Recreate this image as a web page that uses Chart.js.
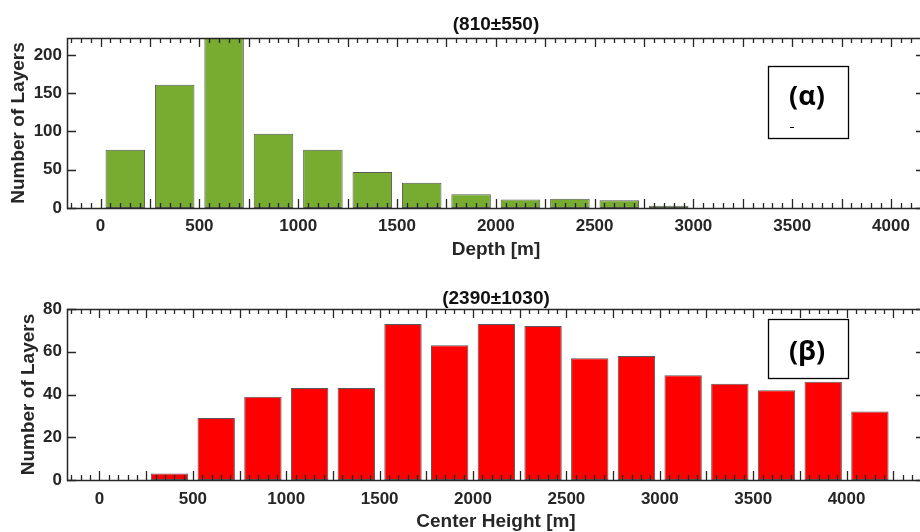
<!DOCTYPE html>
<html>
<head>
<meta charset="utf-8">
<script src="https://cdn.jsdelivr.net/npm/chart.js@4/dist/chart.umd.min.js"></script>
<style>
  html, body { margin: 0; padding: 0; background: #fff; overflow: hidden; width: 920px; height: 532px; }
  .panel { position: absolute; left: 0; }
</style>
</head>
<body>
<div class="panel" style="top:0"><canvas id="depthChart" width="930" height="266"></canvas></div>
<div class="panel" style="top:266px"><canvas id="heightChart" width="930" height="266"></canvas></div>
<script>
// Histogram bin centres (m) and number of layers per bin
const depthBins   = [125, 375, 625, 875, 1125, 1375, 1625, 1875, 2125, 2375, 2625, 2875];
const depthCounts = [76, 161, 222, 97, 76, 47, 33, 18, 11, 12, 10, 3];

const heightBins   = [125, 375, 625, 875, 1125, 1375, 1625, 1875, 2125, 2375, 2625, 2875, 3125, 3375, 3625, 3875, 4125];
const heightCounts = [0, 3, 29, 39, 43, 43, 73, 63, 73, 72, 57, 58, 49, 45, 42, 46, 32];

// Tick labels
const xTickValues       = [0, 500, 1000, 1500, 2000, 2500, 3000, 3500, 4000];
const depthYTickValues  = [0, 50, 100, 150, 200];
const heightYTickValues = [0, 20, 40, 60, 80];

// Texts
const depthTitle  = '(810\u00B1550)';
const heightTitle = '(2390\u00B11030)';
const depthAxisLabel  = 'Depth [m]';
const heightAxisLabel = 'Center Height [m]';
const countAxisLabel  = 'Number of Layers';
const depthTag  = '(\u03B1)';
const heightTag = '(\u03B2)';

const FONT = '"Liberation Sans", Arial, Helvetica, sans-serif';
const INK = '#262626';

// Boxed axes with MATLAB-like inward ticks, panel title and tag box
const axesFrame = {
  id: 'axesFrame',
  afterDatasetsDraw(chart, args, opts) {
    const { ctx, chartArea: a, scales: { x, y } } = chart;
    ctx.save();
    ctx.strokeStyle = INK;
    ctx.lineWidth = 1.3;
    ctx.beginPath();
    const start = Math.ceil(x.min / 50) * 50;
    for (let v = start; v <= x.max; v += 50) {
      const px = Math.round(x.getPixelForValue(v)) + 0.5;
      const len = (v % 250 === 0) ? 9 : 5;
      ctx.moveTo(px, a.bottom); ctx.lineTo(px, a.bottom - len);
      ctx.moveTo(px, a.top);    ctx.lineTo(px, a.top + len);
    }
    for (const t of y.ticks) {
      const py = Math.round(y.getPixelForValue(t.value)) + 0.5;
      ctx.moveTo(a.left, py);  ctx.lineTo(a.left + 9, py);
      ctx.moveTo(a.right, py); ctx.lineTo(a.right - 9, py);
    }
    ctx.stroke();

    ctx.lineWidth = 1.5;
    ctx.strokeRect(Math.round(a.left) + 0.5, Math.round(a.top) + 0.5,
                   Math.round(a.right - a.left), Math.round(a.bottom - a.top));

    // panel title, centred over the plot area
    ctx.fillStyle = '#111';
    ctx.font = 'bold 19px ' + FONT;
    ctx.textAlign = 'center';
    ctx.textBaseline = 'middle';
    ctx.fillText(opts.title, (a.left + a.right) / 2, opts.titleY);

    // tag box
    const b = opts.box;
    ctx.fillStyle = '#fff';
    ctx.fillRect(b.left, b.top, b.width, b.height);
    ctx.strokeStyle = '#000';
    ctx.lineWidth = 1.3;
    ctx.strokeRect(b.left + 0.5, b.top + 0.5, b.width, b.height);
    ctx.fillStyle = '#000';
    ctx.font = 'bold 27px "Open Sans", "Noto Sans", sans-serif';
    ctx.fillText(opts.tag, b.left + b.width / 2 - 1, b.textY);
    if (b.dash) {
      ctx.lineWidth = 1;
      ctx.beginPath();
      ctx.moveTo(b.dash[0], b.dash[1] + 0.5);
      ctx.lineTo(b.dash[0] + 4, b.dash[1] + 0.5);
      ctx.stroke();
    }
    ctx.restore();
  }
};

function histogram(canvasId, cfg) {
  const tickFont = { family: FONT, size: 17, weight: 'bold', lineHeight: 1 };
  const titleFont = { family: FONT, size: 19, weight: 'bold', lineHeight: 1 };
  return new Chart(document.getElementById(canvasId), {
    type: 'bar',
    data: {
      datasets: [{
        data: cfg.bins.map((b, i) => ({ x: b, y: cfg.counts[i] })),
        backgroundColor: cfg.color,
        borderColor: 'rgba(60,60,60,0.85)',
        borderWidth: c => (c.raw && c.raw.y === 0) ? 0 : 1,
        borderSkipped: false,
        barPercentage: 0.8,
        categoryPercentage: 1
      }]
    },
    options: {
      responsive: false,
      animation: false,
      events: [],
      layout: { padding: { left: 0, right: 5, top: cfg.plotTop, bottom: 0 } },
      plugins: {
        legend: { display: false },
        tooltip: { enabled: false },
        title: { display: false },
        axesFrame: { title: cfg.title, titleY: cfg.titleY, tag: cfg.tag, box: cfg.box }
      },
      scales: {
        x: {
          type: 'linear',
          min: cfg.xMin,
          max: cfg.xMax,
          offset: false,
          grid: { display: false, drawTicks: false },
          border: { display: false },
          afterBuildTicks: s => { s.ticks = xTickValues.map(v => ({ value: v })); },
          afterFit: s => { s.height = cfg.xAxisHeight; },
          ticks: {
            autoSkip: false, maxRotation: 0, padding: cfg.xTickPad,
            font: tickFont, color: INK, callback: v => String(v)
          },
          title: {
            display: true, text: cfg.xLabel, font: titleFont, color: INK,
            padding: { top: 0, bottom: cfg.xTitlePad }
          }
        },
        y: {
          min: 0,
          max: cfg.yMax,
          grid: { display: false, drawTicks: false },
          border: { display: false },
          afterBuildTicks: s => { s.ticks = cfg.yTicks.map(v => ({ value: v })); },
          afterFit: s => { s.width = 67; },
          ticks: { padding: 5, font: tickFont, color: INK, callback: v => String(v) },
          title: {
            display: true, text: countAxisLabel, font: titleFont, color: INK,
            padding: { top: cfg.yTitlePad, bottom: 0 }
          }
        }
      }
    },
    plugins: [axesFrame]
  });
}

histogram('depthChart', {
  bins: depthBins, counts: depthCounts, color: '#77AC30',
  xMin: -170, xMax: 4172, yMax: 222, yTicks: depthYTickValues,
  xLabel: depthAxisLabel, title: depthTitle, tag: depthTag,
  plotTop: 38, titleY: 25, xAxisHeight: 58, xTickPad: 9.5, xTitlePad: 6.5, yTitlePad: 9,
  box: { left: 768, top: 66, width: 80, height: 72, textY: 97, dash: [790, 127] }
});

histogram('heightChart', {
  bins: heightBins, counts: heightCounts, color: '#FF0000',
  xMin: -174, xMax: 4420, yMax: 80, yTicks: heightYTickValues,
  xLabel: heightAxisLabel, title: heightTitle, tag: heightTag,
  plotTop: 43, titleY: 32.5, xAxisHeight: 52, xTickPad: 10.5, xTitlePad: 1, yTitlePad: 19,
  box: { left: 768, top: 53, width: 80, height: 59, textY: 86, dash: null }
});
</script>
</body>
</html>
